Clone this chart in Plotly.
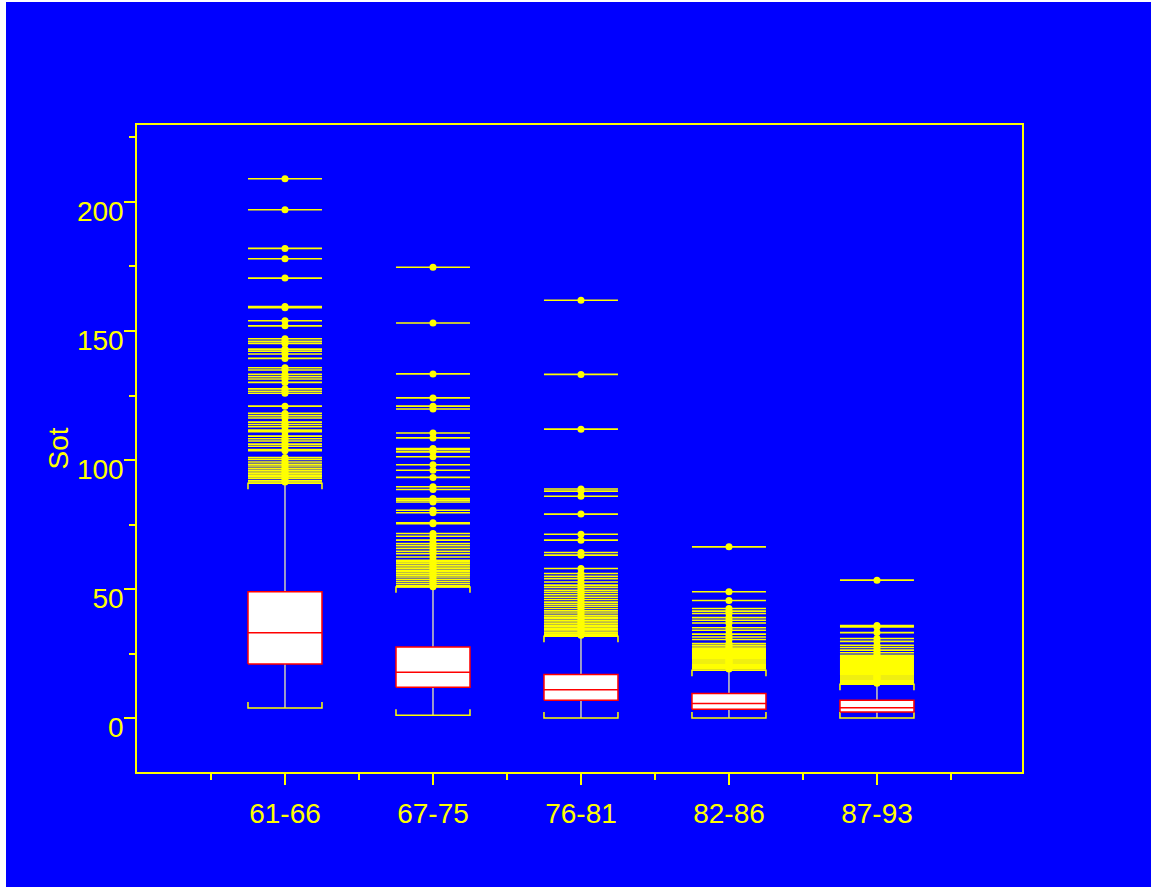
import plotly.graph_objects as go

# ---------------- data ----------------
categories = ["61-66", "67-75", "76-81", "82-86", "87-93"]
q1 = [21.0, 12.0, 7.0, 3.5, 2.4]
median = [33.1, 17.8, 11.1, 5.7, 4.1]
q3 = [49.0, 27.6, 17.0, 9.6, 7.0]
lower_whisker = [4.0, 1.2, 0.1, 0.1, 0.1]
upper_whisker = [91.0, 50.9, 31.8, 18.6, 13.2]

outliers_61_66 = [209.0, 197.0, 182.0, 178.0, 170.5, 159.5, 159.0, 154.0, 152.0, 147.0,
                  146.0, 145.2, 143.0, 142.2, 141.1, 139.4, 135.8, 134.9, 133.2, 132.3,
                  131.4, 130.1, 127.6, 126.7, 125.9, 120.9, 118.1, 117.2, 116.3, 114.7,
                  113.8, 112.9, 111.6, 111.0, 109.3, 108.3, 107.4, 106.2, 105.4, 104.1,
                  103.6, 101.0, 100.3, 99.3, 98.4, 97.7, 96.8, 96.1, 95.4, 94.8, 94.2,
                  93.5, 92.9, 92.0, 91.5]
outliers_67_75 = [174.7, 153.1, 133.4, 124.1, 120.9, 119.8, 110.5, 108.6, 104.5, 104.0,
                  103.2, 101.3, 98.2, 96.1, 93.3, 89.7, 88.6, 85.1, 84.5, 83.8, 80.6,
                  79.6, 75.7, 75.4, 71.6, 70.5, 69.0, 67.7, 66.9, 65.8, 64.7, 63.8, 62.5,
                  61.2, 60.6, 60.0, 59.3, 58.6, 58.0, 57.3, 56.7, 56.0, 55.4, 54.7, 53.8,
                  53.0, 52.2, 51.4, 51.0]
outliers_76_81 = [161.9, 133.2, 112.0, 88.8, 88.0, 86.0, 79.1, 71.3, 69.0, 64.2, 63.2,
                  58.0, 56.1, 55.0, 54.1, 52.8, 51.6, 50.7, 49.6, 48.8, 47.9, 46.9, 46.0,
                  45.0, 44.2, 43.4, 42.5, 41.6, 40.8, 39.9, 39.2, 38.6, 37.9, 37.3, 36.6,
                  36.0, 35.4, 34.8, 34.3, 33.8, 33.1, 32.6, 32.2]
outliers_82_86 = [66.4, 49.0, 45.6, 42.5, 41.5, 40.6, 39.0, 38.0, 36.9, 35.1, 34.1, 32.6,
                  31.5, 30.5, 29.0, 28.3, 27.6, 27.0, 26.6, 26.2, 25.8, 25.4, 25.0, 24.6,
                  24.2, 23.8, 23.4, 23.0, 22.6, 22.2, 21.8, 21.4, 21.0, 20.6, 20.2, 19.8,
                  19.4, 19.1]
outliers_87_93 = [53.5, 35.9, 35.4, 33.2, 30.9, 29.8, 28.3, 27.4, 26.4, 25.4, 24.4, 24.0,
                  23.6, 23.2, 22.8, 22.4, 22.0, 21.6, 21.2, 20.8, 20.4, 20.0, 19.6, 19.2,
                  18.8, 18.4, 18.0, 17.6, 17.2, 16.8, 16.4, 16.0, 15.6, 15.2, 14.8, 14.4,
                  14.0, 13.6]
outliers = [outliers_61_66, outliers_67_75, outliers_76_81, outliers_82_86, outliers_87_93]

y_ticks = [0, 50, 100, 150, 200]

# ---------------- style ----------------
BLUE = "#0000ff"
YELLOW = "#ffff00"
RED = "#ff0000"
HALF = 0.25        # half box width (category units)
TIP = 2.3          # cap bracket tip height (data units)
FONT = "Liberation Sans, Arial, sans-serif"
FS = 28

fig = go.Figure()

for i, cat in enumerate(categories):
    c = i
    # outlier lines
    lx, ly = [], []
    for v in outliers[i]:
        lx += [c - HALF, c + HALF, None]
        ly += [v, v, None]
    fig.add_trace(go.Scatter(x=lx, y=ly, mode="lines",
                             line=dict(color=YELLOW, width=1.6), hoverinfo="skip"))
    # whiskers
    fig.add_trace(go.Scatter(x=[c, c, None, c, c], y=[q3[i], upper_whisker[i], None, q1[i], lower_whisker[i]],
                             mode="lines", line=dict(color="#ffffa8", width=1.2), hoverinfo="skip"))
    # caps
    fig.add_trace(go.Scatter(
        x=[c - HALF, c - HALF, c + HALF, c + HALF, None, c - HALF, c - HALF, c + HALF, c + HALF],
        y=[lower_whisker[i] + TIP, lower_whisker[i], lower_whisker[i], lower_whisker[i] + TIP, None,
           upper_whisker[i] - TIP, upper_whisker[i], upper_whisker[i], upper_whisker[i] - TIP],
        mode="lines", line=dict(color=YELLOW, width=1.5), hoverinfo="skip"))
    # box
    fig.add_trace(go.Scatter(
        x=[c - HALF, c + HALF, c + HALF, c - HALF, c - HALF],
        y=[q1[i], q1[i], q3[i], q3[i], q1[i]],
        mode="lines", fill="toself", fillcolor="white",
        line=dict(color=RED, width=1.5), hoverinfo="skip"))
    # median
    fig.add_trace(go.Scatter(x=[c - HALF, c + HALF], y=[median[i], median[i]], mode="lines",
                             line=dict(color=RED, width=1.5), hoverinfo="skip"))
    # outlier points
    fig.add_trace(go.Scatter(x=[c] * len(outliers[i]), y=outliers[i], mode="markers",
                             marker=dict(color=YELLOW, size=7), hoverinfo="skip"))

fig.update_layout(
    width=1145, height=885,
    paper_bgcolor=BLUE, plot_bgcolor=BLUE,
    margin=dict(l=131, r=129, t=123, b=115),
    showlegend=False,
    font=dict(family=FONT, color=YELLOW, size=FS),
)
fig.update_xaxes(
    range=[-1, 4.98], tickmode="array", tickvals=list(range(len(categories))), ticktext=categories,
    showgrid=False, zeroline=False, showline=True, linecolor=YELLOW, linewidth=1.5, mirror=True,
    ticks="outside", ticklen=11, tickcolor=YELLOW, tickwidth=1.5, ticklabelstandoff=5,
    minor=dict(tickmode="array", tickvals=[-0.5, 0.5, 1.5, 2.5, 3.5, 4.5], ticks="outside",
               ticklen=6, tickcolor=YELLOW, tickwidth=1.5),
    tickfont=dict(size=FS, color=YELLOW, family=FONT),
)
fig.update_yaxes(
    range=[-20.8, 229.8], tickmode="array", tickvals=y_ticks,
    showgrid=False, zeroline=False, showline=True, linecolor=YELLOW, linewidth=1.5, mirror=True,
    ticks="outside", ticklen=11, tickcolor=YELLOW, tickwidth=1.5,
    ticklabelshift=9, ticklabelstandoff=-5,
    minor=dict(tickmode="array", tickvals=[25, 75, 125, 175, 225], ticks="outside",
               ticklen=6, tickcolor=YELLOW, tickwidth=1.5),
    tickfont=dict(size=FS, color=YELLOW, family=FONT),
    title=dict(text="Sot", standoff=0, font=dict(size=FS, color=YELLOW, family=FONT)),
)

fig.write_html("out.html", post_script="document.body.style.margin='2px 2px 2px 6px';")
